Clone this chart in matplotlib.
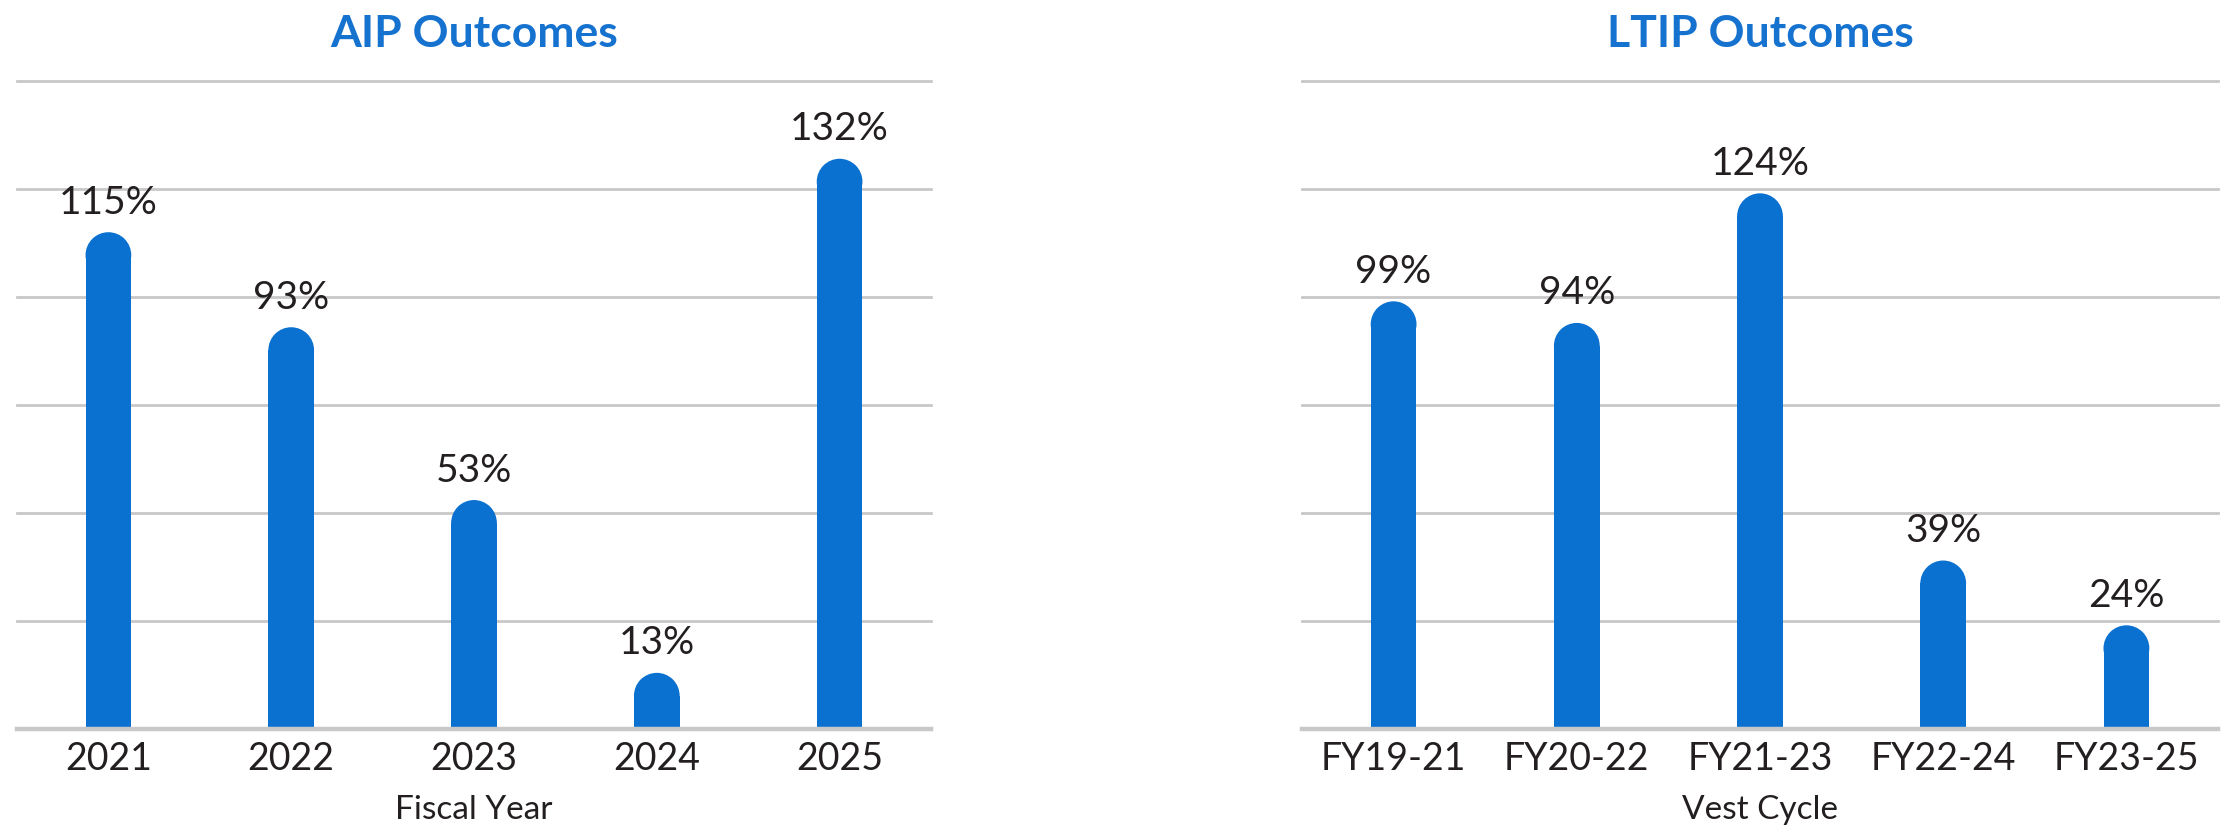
import numpy as np
import matplotlib
matplotlib.use("Agg")
import matplotlib.pyplot as plt
from matplotlib.patches import Ellipse

plt.rcParams['font.family'] = ['Lato', 'DejaVu Sans']

# data
aip_years = ['2021', '2022', '2023', '2024', '2025']
aip_values = [115, 93, 53, 13, 132]
ltip_cycles = ['FY19-21', 'FY20-22', 'FY21-23', 'FY22-24', 'FY23-25']
ltip_values = [99, 94, 124, 39, 24]
grid_values = [25, 50, 75, 100, 125, 150]

bar_color = '#0B71D0'
title_color = '#1672CF'
text_color = '#231F20'
grid_color = '#C8C8C8'

W, H = 2229, 837
fig = plt.figure(figsize=(W / 100, H / 100), dpi=100)

def px_axes(x0, x1, y_top, y_bot):
    return fig.add_axes([x0 / W, 1 - y_bot / H, (x1 - x0) / W, (y_bot - y_top) / H])

ax1 = px_axes(17, 931, 82, 730)
ax2 = px_axes(1302, 2218, 82, 730)

def draw_panel(ax, cats, vals, title, xlabel):
    x = np.arange(len(cats))
    width = 0.25
    ax.set_xlim(-0.5, len(cats) - 0.5)
    ax.set_ylim(0, 150)

    # radius of the rounded cap in data y units
    bb = ax.get_position()
    px_x = bb.width * W / (len(cats))
    px_y = bb.height * H / 150
    ry = (width / 2) * px_x / px_y

    for g in grid_values:
        ax.axhline(g, color=grid_color, lw=2.0, clip_on=False, zorder=1)
    ax.axhline(0, color=grid_color, lw=3.2, clip_on=False, zorder=3)

    vals = np.array(vals, dtype=float)
    ax.bar(x, vals - ry, width=width, color=bar_color, zorder=2, linewidth=0)
    for xi, v in zip(x, vals):
        ax.add_patch(Ellipse((xi, v - ry), width, 2 * ry, color=bar_color,
                             zorder=2, linewidth=0))
        ax.annotate(f'{int(v)}%', (xi, v), xytext=(0, 14), textcoords='offset points',
                    ha='center', va='baseline', fontsize=28, color=text_color)

    ax.set_xticks(x)
    ax.set_xticklabels(cats, fontsize=27, color=text_color)
    ax.tick_params(axis='x', length=0, pad=8)
    ax.set_yticks([])
    for s in ax.spines.values():
        s.set_visible(False)
    ax.set_xlabel(xlabel, fontsize=24, color=text_color, va='center')
    ax.xaxis.set_label_coords(0.5, -80 / 648)
    ax.set_facecolor('none')

    cx = (bb.x0 + bb.x1) / 2
    fig.text(cx, 1 - 34 / H, title, ha='center', va='center', fontsize=32,
             fontweight='bold', color=title_color)

draw_panel(ax1, aip_years, aip_values, 'AIP Outcomes', 'Fiscal Year')
draw_panel(ax2, ltip_cycles, ltip_values, 'LTIP Outcomes', 'Vest Cycle')

fig.savefig('out.png', dpi=100)
